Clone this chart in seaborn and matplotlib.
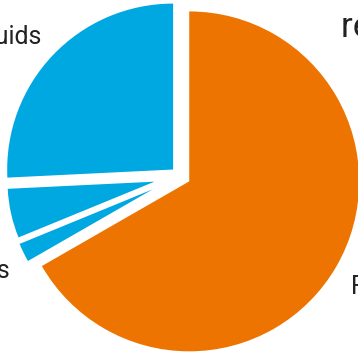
import numpy as np
import seaborn as sns
import matplotlib.pyplot as plt

# slice data, counterclockwise from 12 o'clock
labels = ["Fluids", "Other", "Gases", "Food"]
shares = [25.7, 5.4, 2.1, 66.5]
colors = ["#00A8E1", "#00A8E1", "#00A8E1", "#EE7402"]
explode = [0.056, 0.155, 0.18, 0.064]
radius_scale = [0.988, 0.875, 0.857, 1.012]
title = "reagent use"

sns.set_theme(style="white")
plt.rcParams["font.family"] = ["Roboto", "DejaVu Sans"]

fig = plt.figure(figsize=(3.58, 3.52), dpi=100)
ax = fig.add_axes([0, 0, 1, 1])

wedges, texts = ax.pie(
    shares, labels=labels, colors=colors, explode=explode,
    startangle=90, radius=1.0, labeldistance=1.1,
    wedgeprops=dict(linewidth=0),
    textprops=dict(fontsize=18, color="#222222"),
)

# each slice has its own radius; move label with it
for w, t, s in zip(wedges, texts, radius_scale):
    cx, cy = w.center
    w.set_radius(s)
    x, y = t.get_position()
    t.set_position((cx + (x - cx) * s, cy + (y - cy) * s))
    # labels sit above the anchor on the upper half, below it on the lower
    t.set_va("baseline" if y > 0 else "top")

ax.set_aspect("equal")
ax.set_xlim(-1.071, 1.060)
ax.set_ylim(-1.048, 1.048)
ax.axis("off")

ax.text(0.953, 0.895, title, transform=ax.transAxes, ha="left",
        va="baseline", fontsize=25, color="#222222")

fig.savefig("out.png", dpi=100)
